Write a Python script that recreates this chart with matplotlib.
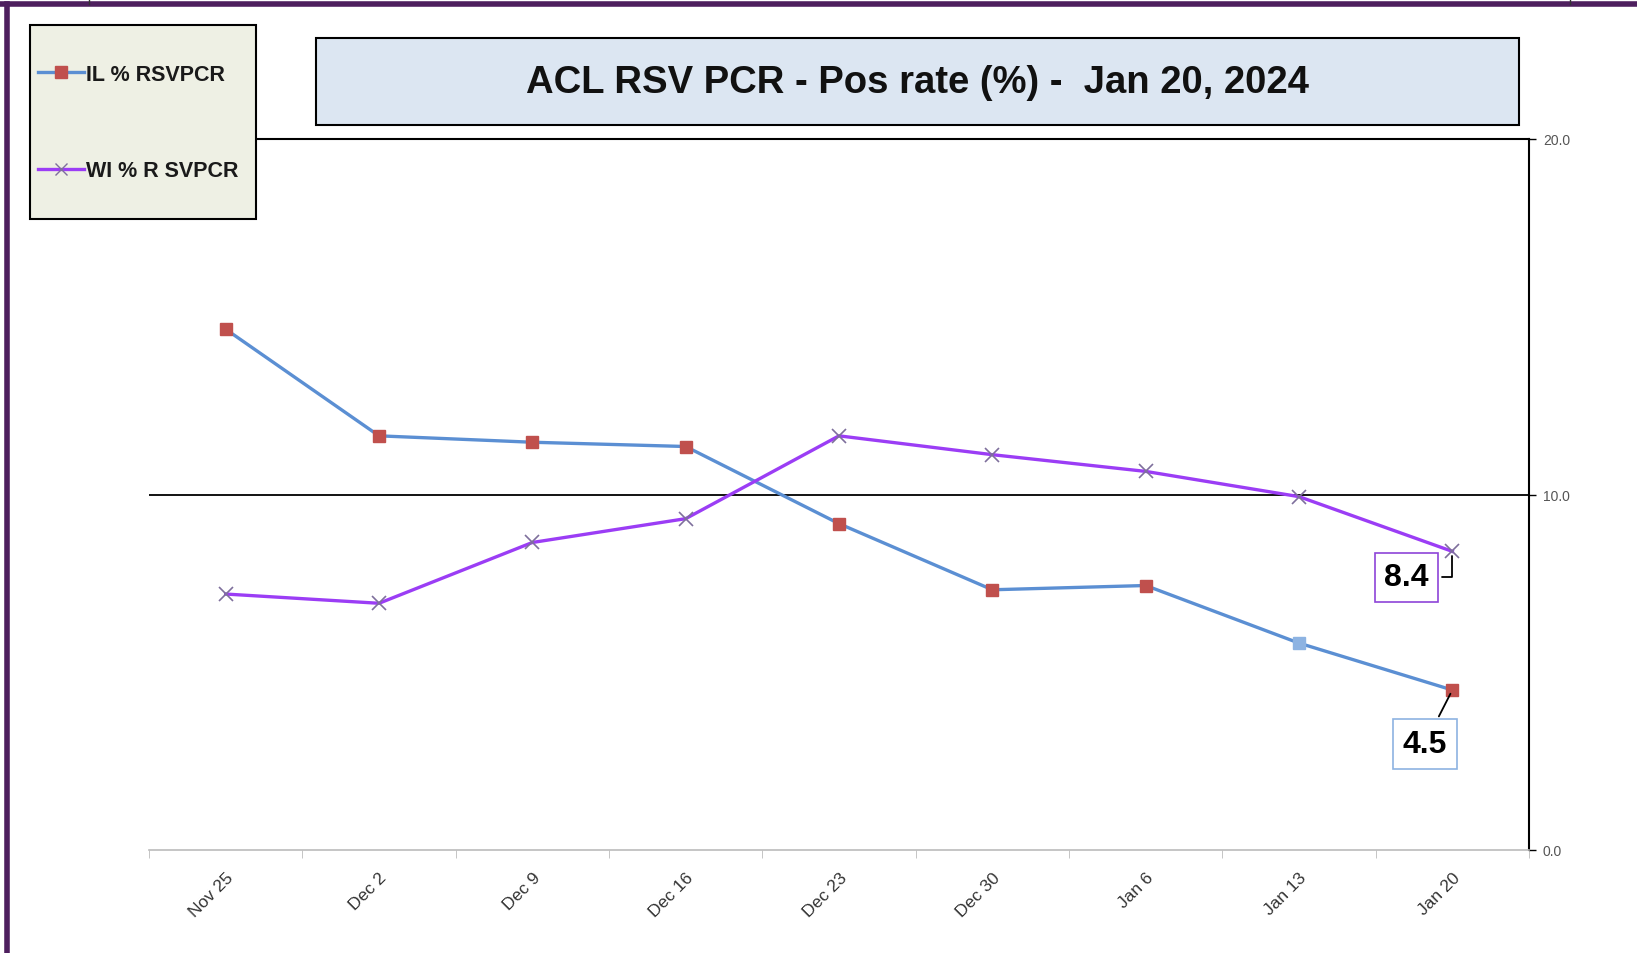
import matplotlib.pyplot as plt
from matplotlib.lines import Line2D
from matplotlib.patches import Rectangle

plt.rcParams['font.family'] = ['Liberation Sans', 'DejaVu Sans']

# data
weeks = ["Nov 25", "Dec 2", "Dec 9", "Dec 16", "Dec 23", "Dec 30", "Jan 6", "Jan 13", "Jan 20"]
il_rate = [14.65, 11.65, 11.47, 11.35, 9.18, 7.32, 7.44, 5.82, 4.5]
wi_rate = [7.2, 6.94, 8.65, 9.32, 11.65, 11.12, 10.65, 9.94, 8.4]
y_ticks = [0, 10, 20]

il_line = "#5B8FD3"
il_mark = "#C0504D"
wi_line = "#9B3DF5"
wi_mark = "#7E6F9C"

W, H = 1637, 954
fig = plt.figure(figsize=(W / 100, H / 100), dpi=100)
fig.patch.set_facecolor("white")

ax = fig.add_axes([149 / W, 1 - 851 / H, (1529 - 149) / W, (851 - 140) / H])
x = list(range(len(weeks)))

ax.plot(x, il_rate, color=il_line, lw=2.4, zorder=3)
mcols = [il_mark] * len(x)
mcols[7] = "#8DB3E2"  # odd light blue marker on Jan 13
for xi, yi, c in zip(x, il_rate, mcols):
    ax.plot(xi, yi, marker="s", ms=9, color=c, mec=c, zorder=4)

ax.plot(x, wi_rate, color=wi_line, lw=2.4, marker="x", ms=10, mew=1.2,
        mec=wi_mark, zorder=3)

ax.set_xlim(-0.5, len(weeks) - 0.5)
ax.set_ylim(0, 20)
ax.axhline(10, color="black", lw=1.3, zorder=1)

ax.yaxis.tick_right()
ax.set_yticks(y_ticks)
ax.set_yticklabels([f"{v:.1f}" for v in y_ticks])
ax.tick_params(axis="y", direction="out", length=5, width=1, colors="black",
               labelcolor="#555555", labelsize=10, pad=5)

ax.set_xticks(x)
ax.set_xticklabels(weeks, rotation=45, ha="right", rotation_mode="anchor")
ax.set_xticks([i - 0.5 for i in range(len(weeks) + 1)], minor=True)
ax.tick_params(axis="x", which="major", length=0, labelsize=12.5,
               labelcolor="#333333", pad=14)
ax.tick_params(axis="x", which="minor", length=6, color="#BBBBBB", direction="out")

for s in ["top", "right"]:
    ax.spines[s].set_color("black")
    ax.spines[s].set_linewidth(1.5)
ax.spines["left"].set_visible(False)
ax.spines["bottom"].set_color("#BBBBBB")
ax.spines["bottom"].set_linewidth(1.2)

# value call-outs on last points
ax.annotate(f"{wi_rate[-1]:.1f}", xy=(x[-1], wi_rate[-1]), xytext=(7.70, 7.67),
            fontsize=23, fontweight="bold", ha="center", va="center",
            bbox=dict(boxstyle="square,pad=0.3", fc="white", ec="#8E44D8", lw=1.2),
            arrowprops=dict(arrowstyle="-", color="black", lw=1.3, shrinkB=3,
                            connectionstyle="angle,angleA=0,angleB=90,rad=0"),
            zorder=5)
ax.annotate(f"{il_rate[-1]:.1f}", xy=(x[-1], il_rate[-1]), xytext=(7.82, 2.98),
            fontsize=23, fontweight="bold", ha="center", va="center",
            bbox=dict(boxstyle="square,pad=0.3", fc="white", ec="#8DB3E2", lw=1.2),
            arrowprops=dict(arrowstyle="-", color="black", lw=1.3, shrinkB=3),
            zorder=5)

# title box
ax.add_patch(Rectangle((316 / W, 1 - 126 / H), (1519 - 316) / W, 87 / H,
                       transform=fig.transFigure, fc="#DCE6F2", ec="black",
                       lw=1.5, zorder=10, clip_on=False))
ax.text((316 + 1519) / 2 / W, 1 - 83 / H, "ACL RSV PCR - Pos rate (%) -  Jan 20, 2024",
        transform=fig.transFigure, ha="center", va="center", fontsize=27.5,
        fontweight="bold", color="#111111", zorder=11)

# legend box (drawn on top of the axes frame)
ax.add_patch(Rectangle((30 / W, 1 - 220 / H), (256 - 30) / W, (220 - 26) / H,
                       transform=fig.transFigure, fc="#EEF0E4", ec="black",
                       lw=1.5, zorder=10, clip_on=False))
handles = [Line2D([], [], color=il_line, lw=2.4, marker="s", ms=9, mfc=il_mark, mec=il_mark),
           Line2D([], [], color=wi_line, lw=2.4, marker="x", ms=9, mec=wi_mark)]
leg = ax.legend(handles, ["IL % RSVPCR", "WI % R SVPCR"], loc="upper left",
                bbox_to_anchor=(38 / W, 1 - 65 / H), bbox_transform=fig.transFigure,
                frameon=False, handlelength=2.15, handletextpad=0.1,
                labelspacing=3.5, borderpad=0, borderaxespad=0,
                prop={"weight": "bold", "size": 15.5})
leg.set_zorder(12)
for t in leg.get_texts():
    t.set_color("#1A1A1A")

# outer purple frame (top and left edges visible in the source)
border = "#4E1F5E"
fig.add_artist(Line2D([0, 1], [1 - 5 / H, 1 - 5 / H], transform=fig.transFigure,
                      color=border, lw=4))
fig.add_artist(Line2D([7 / W, 7 / W], [0, 1 - 5 / H], transform=fig.transFigure,
                      color=border, lw=4))
for xp in [89, 1570]:
    fig.add_artist(Line2D([xp / W, xp / W], [1 - 5 / H, 1], transform=fig.transFigure,
                          color="#333333", lw=1))

fig.savefig("out.png", dpi=100)
